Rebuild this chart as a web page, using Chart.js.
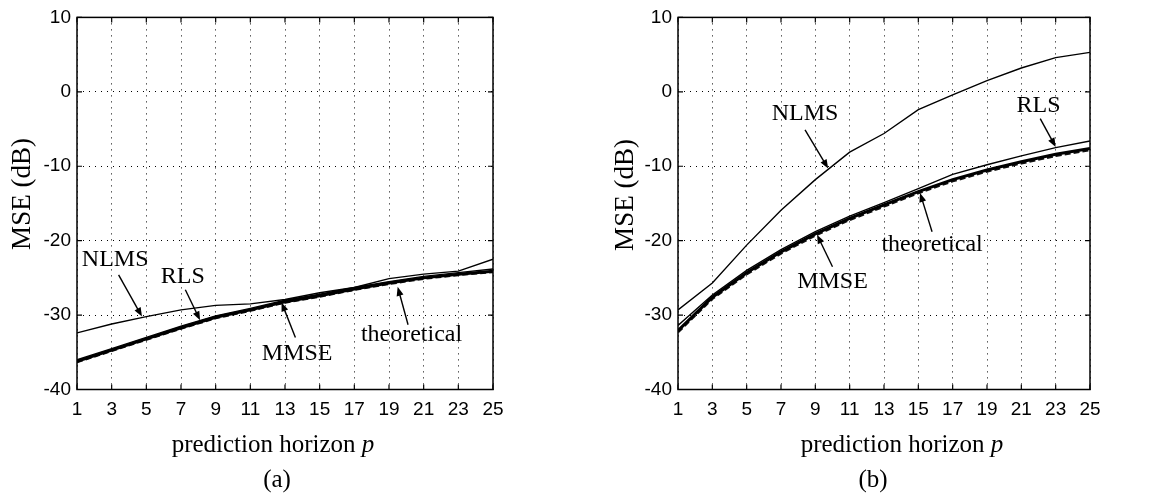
<!DOCTYPE html>
<html>
<head>
<meta charset="utf-8">
<script src="https://cdn.jsdelivr.net/npm/chart.js@4.4.1/dist/chart.umd.min.js"></script>
<style>
	html, body { margin: 0; padding: 0; background: #fff; }
	.panel { position: absolute; top: 0; height: 502px; }
</style>
</head>
<body>
<div class="panel" style="left:0;width:583px"><canvas id="chartA" width="583" height="502"></canvas></div>
<div class="panel" style="left:583px;width:584px"><canvas id="chartB" width="584" height="502"></canvas></div>
<script>
// prediction horizon p (odd values, where the curves were read)
const horizon = [1, 3, 5, 7, 9, 11, 13, 15, 17, 19, 21, 23, 25];

// panel (a)
const nlmsA = [-32.4, -31.2, -30.2, -29.3, -28.7, -28.5, -27.9, -27.0, -26.3, -25.1, -24.5, -24.1, -22.5];
const rlsA = [-36.0, -34.5, -33.0, -31.5, -30.1, -29.1, -28.0, -27.2, -26.3, -25.5, -24.8, -24.3, -23.8];
const mmseA = [-36.2, -34.7, -33.2, -31.7, -30.3, -29.3, -28.2, -27.4, -26.5, -25.7, -25.0, -24.5, -24.1];
const theoryA = [-36.3, -34.8, -33.3, -31.8, -30.4, -29.4, -28.3, -27.5, -26.6, -25.8, -25.1, -24.6, -24.2];

// panel (b)
const nlmsB = [-29.3, -25.7, -20.6, -15.9, -11.8, -8.1, -5.6, -2.4, -0.4, 1.5, 3.2, 4.6, 5.3];
const rlsB = [-31.4, -27.3, -24.0, -21.2, -18.8, -16.7, -14.9, -13.0, -11.1, -9.8, -8.6, -7.5, -6.6];
const mmseB = [-32.1, -27.6, -24.3, -21.5, -19.1, -17.0, -15.2, -13.4, -11.8, -10.5, -9.4, -8.4, -7.6];
const theoryB = [-32.3, -27.8, -24.5, -21.7, -19.3, -17.2, -15.4, -13.6, -12.0, -10.7, -9.6, -8.6, -7.8];

const yMin = -40, yMax = 10, yStep = 10;
const xMin = 1, xMax = 25, xStep = 2;

const SERIF = '"Liberation Serif", "DejaVu Serif", serif';
const SANS = '"Liberation Sans", Arial, sans-serif';

function pts(vals) {
	return horizon.map((p, i) => ({x: p, y: vals[i]}));
}

function arrow(ctx, x1, y1, x2, y2) {
	const ang = Math.atan2(y2 - y1, x2 - x1);
	const len = 9, wid = 3.5;
	ctx.beginPath();
	ctx.moveTo(x1, y1);
	ctx.lineTo(x2 - Math.cos(ang) * len * 0.8, y2 - Math.sin(ang) * len * 0.8);
	ctx.lineWidth = 1.4;
	ctx.stroke();
	ctx.beginPath();
	ctx.moveTo(x2, y2);
	ctx.lineTo(x2 - Math.cos(ang) * len + Math.sin(ang) * wid, y2 - Math.sin(ang) * len - Math.cos(ang) * wid);
	ctx.lineTo(x2 - Math.cos(ang) * len - Math.sin(ang) * wid, y2 - Math.sin(ang) * len + Math.cos(ang) * wid);
	ctx.closePath();
	ctx.fill();
}

const figPlugin = {
	id: 'fig',
	afterDraw(chart, args, o) {
		const ctx = chart.ctx;
		const a = chart.chartArea;
		const x = chart.scales.x, y = chart.scales.y;
		ctx.save();
		ctx.strokeStyle = '#000';
		ctx.fillStyle = '#000';
		ctx.lineWidth = 1.5;
		ctx.strokeRect(a.left, a.top, a.right - a.left, a.bottom - a.top);

		// inward tick marks on all four sides
		ctx.lineWidth = 1.2;
		ctx.beginPath();
		x.ticks.forEach(t => {
			const px = x.getPixelForValue(t.value);
			ctx.moveTo(px, a.bottom); ctx.lineTo(px, a.bottom - 5);
			ctx.moveTo(px, a.top); ctx.lineTo(px, a.top + 5);
		});
		y.ticks.forEach(t => {
			const py = y.getPixelForValue(t.value);
			ctx.moveTo(a.left, py); ctx.lineTo(a.left + 5, py);
			ctx.moveTo(a.right, py); ctx.lineTo(a.right - 5, py);
		});
		ctx.stroke();

		// labels with arrows
		ctx.font = '24px ' + SERIF;
		ctx.textAlign = 'center';
		ctx.textBaseline = 'middle';
		o.notes.forEach(n => {
			ctx.fillText(n.text, x.getPixelForValue(n.at[0]), y.getPixelForValue(n.at[1]));
			arrow(ctx, x.getPixelForValue(n.from[0]), y.getPixelForValue(n.from[1]),
				x.getPixelForValue(n.to[0]), y.getPixelForValue(n.to[1]));
		});

		// x title with italic p
		const t1 = 'prediction horizon ', t2 = 'p';
		ctx.font = '25px ' + SERIF;
		const w1 = ctx.measureText(t1).width;
		ctx.font = 'italic 25px ' + SERIF;
		const w2 = ctx.measureText(t2).width;
		let sx = o.xTitle[0] - (w1 + w2) / 2;
		ctx.textAlign = 'left';
		ctx.font = '25px ' + SERIF;
		ctx.fillText(t1, sx, o.xTitle[1]);
		ctx.font = 'italic 25px ' + SERIF;
		ctx.fillText(t2, sx + w1, o.xTitle[1]);

		// panel tag
		ctx.textAlign = 'center';
		ctx.font = '25px ' + SERIF;
		ctx.fillText(o.tag, o.tagPos[0], o.tagPos[1]);

		// y title
		ctx.font = '27px ' + SERIF;
		ctx.translate(o.yTitle[0], o.yTitle[1]);
		ctx.rotate(-Math.PI / 2);
		ctx.fillText('MSE (dB)', 0, 0);
		ctx.restore();
	}
};

function makeChart(id, nlms, rls, mmse, theory, leftW, padRight, fig) {
	const ctx = document.getElementById(id).getContext('2d');
	return new Chart(ctx, {
		type: 'line',
		data: {
			datasets: [
				{label: 'NLMS', data: pts(nlms), borderColor: '#000', borderWidth: 1.4},
				{label: 'RLS', data: pts(rls), borderColor: '#000', borderWidth: 1.4},
				{label: 'MMSE', data: pts(mmse), borderColor: '#000', borderWidth: 3},
				{label: 'theoretical', data: pts(theory), borderColor: '#111', borderWidth: 2.5, borderDash: [6, 3]}
			]
		},
		options: {
			responsive: false,
			animation: false,
			events: [],
			elements: {point: {radius: 0}, line: {tension: 0, fill: false}},
			layout: {padding: {left: 0, right: padRight, top: 17, bottom: 0}},
			plugins: {
				legend: {display: false},
				tooltip: {enabled: false},
				fig: fig
			},
			scales: {
				x: {
					type: 'linear',
					min: xMin, max: xMax,
					ticks: {stepSize: xStep, color: '#000', font: {family: SANS, size: 19}, padding: 9, maxRotation: 0},
					grid: {color: '#000', lineWidth: 1, drawTicks: false},
					border: {display: false, dash: [1, 5]},
					afterFit: s => { s.height = 112.5; }
				},
				y: {
					min: yMin, max: yMax,
					ticks: {stepSize: yStep, color: '#000', font: {family: SANS, size: 19}, padding: 6},
					grid: {color: '#000', lineWidth: 1, drawTicks: false},
					border: {display: false, dash: [1, 5]},
					afterFit: s => { s.width = leftW; }
				}
			}
		},
		plugins: [figPlugin]
	});
}

makeChart('chartA', nlmsA, rlsA, mmseA, theoryA, 77, 90, {
	tag: '(a)', tagPos: [277, 480], xTitle: [273, 445], yTitle: [23, 194],
	notes: [
		{text: 'NLMS', at: [3.2, -22.6], from: [3.4, -24.6], to: [4.75, -30.2]},
		{text: 'RLS', at: [7.1, -24.9], from: [7.25, -26.6], to: [8.1, -30.7]},
		{text: 'MMSE', at: [13.7, -35.2], from: [13.6, -33.0], to: [12.8, -28.3]},
		{text: 'theoretical', at: [20.3, -32.7], from: [20.1, -31.3], to: [19.5, -26.2]}
	]
});

makeChart('chartB', nlmsB, rlsB, mmseB, theoryB, 95, 77, {
	tag: '(b)', tagPos: [290, 480], xTitle: [319, 445], yTitle: [43, 195],
	notes: [
		{text: 'NLMS', at: [8.4, -2.9], from: [8.4, -5.1], to: [9.75, -10.3]},
		{text: 'RLS', at: [22.0, -1.8], from: [22.1, -3.6], to: [23.0, -7.4]},
		{text: 'theoretical', at: [15.8, -20.6], from: [15.8, -18.8], to: [15.1, -13.6]},
		{text: 'MMSE', at: [10.0, -25.5], from: [10.0, -23.5], to: [9.1, -19.2]}
	]
});
</script>
</body>
</html>
